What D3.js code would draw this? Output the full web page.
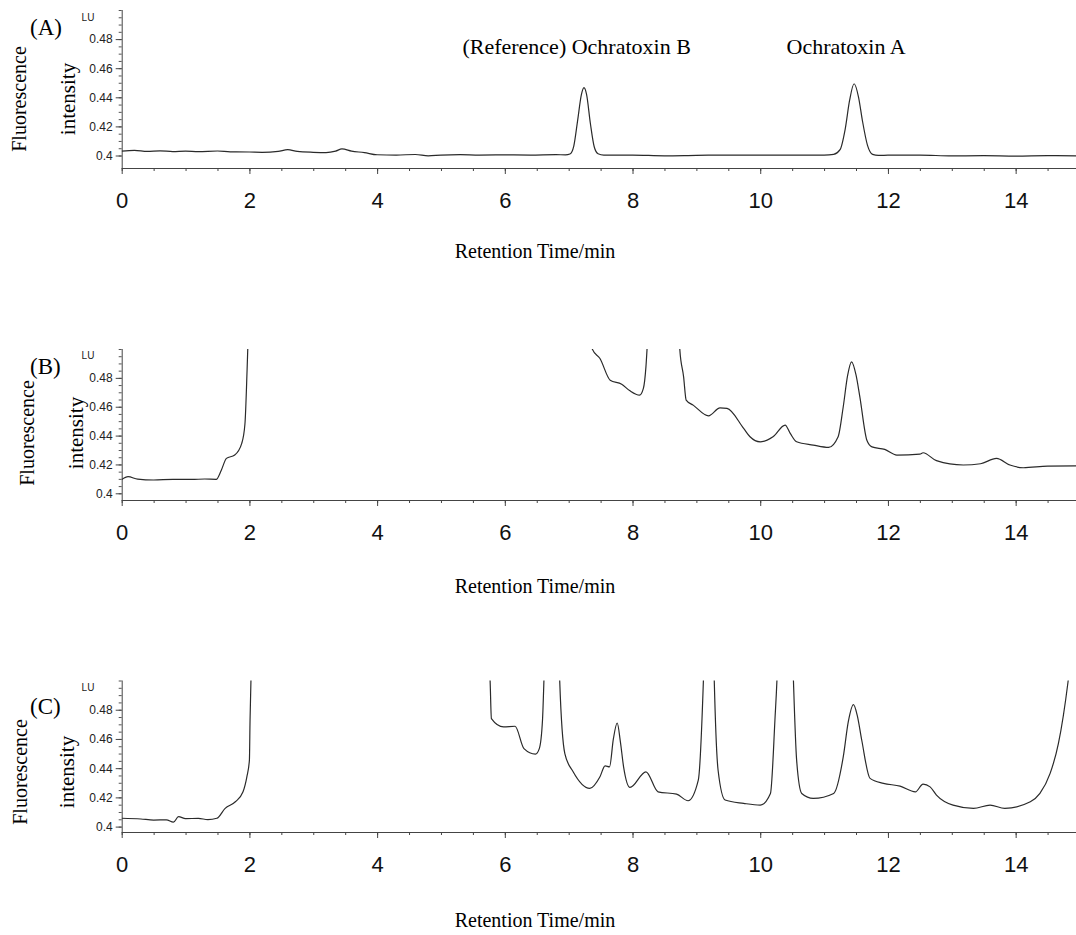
<!DOCTYPE html>
<html>
<head>
<meta charset="utf-8">
<script src="https://cdn.jsdelivr.net/npm/d3@7"></script>
<style>
  body { margin: 0; background: #fff; }
  svg { display: block; }
</style>
</head>
<body>
<script>
// chromatogram traces, [retention time (min), fluorescence (LU)]
const traceA = [
  [0, 0.4030], [0.2, 0.4035], [0.4, 0.4028], [0.6, 0.4032], [0.8, 0.4027], [1.0, 0.4030],
  [1.2, 0.4026], [1.5, 0.4031], [1.7, 0.4025], [2.0, 0.4024], [2.2, 0.4022], [2.45, 0.4028],
  [2.6, 0.4040], [2.75, 0.4028], [3.0, 0.4022], [3.2, 0.4020], [3.35, 0.4030], [3.45, 0.4045],
  [3.6, 0.4030], [3.8, 0.4020], [4.0, 0.4005], [4.3, 0.4003], [4.6, 0.4007], [4.8, 0.3998],
  [5.0, 0.4003], [5.3, 0.4006], [5.6, 0.4003], [6.0, 0.4004], [6.4, 0.4003], [6.8, 0.4006],
  [6.95, 0.4004], [7.02, 0.4010], [7.08, 0.4065], [7.14, 0.4240], [7.2, 0.4420], [7.24, 0.4466],
  [7.28, 0.4420], [7.34, 0.4220], [7.4, 0.4060], [7.46, 0.4012], [7.55, 0.4003], [8.0, 0.4003],
  [8.5, 0.3998], [9.0, 0.4001], [9.5, 0.4003], [10.0, 0.4003], [10.5, 0.4002], [11.0, 0.4003],
  [11.15, 0.4008], [11.25, 0.4040], [11.33, 0.4180], [11.4, 0.4380], [11.47, 0.4493], [11.54, 0.4400],
  [11.6, 0.4240], [11.68, 0.4070], [11.76, 0.4008], [11.85, 0.4001], [12.0, 0.4002], [12.5, 0.4003],
  [13.0, 0.3997], [13.5, 0.3999], [14.0, 0.3996], [14.5, 0.3999], [15.0, 0.3997]
];

const traceB = [
  [0, 0.4095], [0.1, 0.4115], [0.25, 0.4098], [0.5, 0.4092], [0.8, 0.4097], [1.1, 0.4096],
  [1.3, 0.4099], [1.48, 0.4097], [1.56, 0.4160], [1.64, 0.4242], [1.77, 0.4265], [1.88, 0.4346],
  [1.93, 0.4480], [1.96, 0.4807], [1.98, 0.5100], [2.0, 0.5600], [7.3, 0.5600], [7.37, 0.4999],
  [7.49, 0.4934], [7.65, 0.4784], [7.83, 0.4756], [7.96, 0.4710], [8.11, 0.4680], [8.17, 0.4727],
  [8.21, 0.4876], [8.24, 0.5100], [8.3, 0.5600], [8.7, 0.5600], [8.74, 0.5000], [8.8, 0.4807],
  [8.84, 0.4646], [8.95, 0.4611], [9.19, 0.4537], [9.37, 0.4592], [9.48, 0.4588], [9.74, 0.4450],
  [9.84, 0.4392], [10.0, 0.4357], [10.2, 0.4392], [10.39, 0.4473], [10.47, 0.4415], [10.57, 0.4357],
  [10.83, 0.4334], [11.07, 0.4318], [11.22, 0.4392], [11.3, 0.4600], [11.37, 0.4820], [11.43, 0.4911],
  [11.5, 0.4820], [11.56, 0.4668], [11.67, 0.4368], [11.75, 0.4322], [11.95, 0.4304], [12.14, 0.4265],
  [12.5, 0.4272], [12.55, 0.4281], [12.76, 0.4226], [13.18, 0.4196], [13.45, 0.4205], [13.7, 0.4242],
  [13.91, 0.4196], [14.12, 0.4177], [14.5, 0.4188], [15.0, 0.4190]
];

const traceC = [
  [0, 0.4057], [0.3, 0.4052], [0.5, 0.4045], [0.7, 0.4046], [0.81, 0.4030], [0.89, 0.4068],
  [1.0, 0.4055], [1.2, 0.4056], [1.35, 0.4048], [1.49, 0.4057], [1.62, 0.4125], [1.78, 0.4170],
  [1.9, 0.4238], [1.96, 0.4340], [2.0, 0.4455], [2.01, 0.4728], [2.03, 0.5100], [2.06, 0.5600],
  [5.7, 0.5600], [5.77, 0.4994], [5.79, 0.4739], [5.98, 0.4682], [6.16, 0.4687], [6.3, 0.4534],
  [6.48, 0.4496], [6.54, 0.4534], [6.59, 0.4728], [6.62, 0.5100], [6.66, 0.5600], [6.82, 0.5600],
  [6.86, 0.4994], [6.94, 0.4500], [7.07, 0.4375], [7.33, 0.4261], [7.49, 0.4341], [7.57, 0.4416],
  [7.64, 0.4409], [7.7, 0.4600], [7.76, 0.4709], [7.81, 0.4580], [7.86, 0.4409], [7.96, 0.4268],
  [8.21, 0.4375], [8.4, 0.4238], [8.69, 0.4222], [8.87, 0.4177], [9.03, 0.4318], [9.11, 0.5000],
  [9.15, 0.5600], [9.25, 0.5600], [9.28, 0.5000], [9.34, 0.4386], [9.45, 0.4182], [9.74, 0.4159],
  [10.0, 0.4147], [10.16, 0.4227], [10.23, 0.4728], [10.27, 0.5100], [10.3, 0.5600], [10.48, 0.5600],
  [10.52, 0.5000], [10.57, 0.4455], [10.65, 0.4227], [10.83, 0.4193], [11.15, 0.4227], [11.3, 0.4477],
  [11.38, 0.4720], [11.46, 0.4835], [11.52, 0.4760], [11.59, 0.4591], [11.72, 0.4330], [11.93, 0.4296],
  [12.19, 0.4277], [12.43, 0.4238], [12.55, 0.4291], [12.66, 0.4272], [12.76, 0.4216], [13.02, 0.4147],
  [13.34, 0.4125], [13.6, 0.4147], [13.83, 0.4125], [14.23, 0.4170], [14.38, 0.4227], [14.54, 0.4364],
  [14.67, 0.4569], [14.82, 0.4990], [14.9, 0.5300]
];

const panelNames = ['(A)', '(B)', '(C)'];
const xMajorTicks = [0, 2, 4, 6, 8, 10, 12, 14];
const xMinorTicks = d3.range(0, 15.01, 0.5);
const yMajorTicks = [0.4, 0.42, 0.44, 0.46, 0.48];
const yMinorTicks = d3.range(0.4, 0.5001, 0.005);
const peakNotes = [{ t: 7.25, text: '(Reference) Ochratoxin B' }, { t: 11.47, text: 'Ochratoxin A' }];

const W = 1076, H = 935;
const serif = '"Liberation Serif", "Times New Roman", serif';
const sans = '"Liberation Sans", Arial, sans-serif';

// pixel layout of each panel
const panels = [
  { trace: traceA, top: 10, zero: 155.5, axisY: 168, labelY: 200, titleY: 258, fluoX: 19, intX: 68, midY: 99, nameY: 35, luY: 21 },
  { trace: traceB, top: 349, zero: 493.3, axisY: 500, labelY: 532, titleY: 593, fluoX: 27, intX: 76, midY: 433, nameY: 374, luY: 359 },
  { trace: traceC, top: 680.5, zero: 826.6, axisY: 832, labelY: 864, titleY: 927, fluoX: 20, intX: 67, midY: 772, nameY: 714, luY: 691 }
];

const svg = d3.select('body').append('svg')
  .attr('width', W)
  .attr('height', H);

const x = d3.scaleLinear().domain([0, 15]).range([121.7, 1079.5]);

panels.forEach((p, i) => {
  const y = d3.scaleLinear().domain([0.4, 0.5]).range([p.zero, p.top]);
  const g = svg.append('g');

  // clip to the plot area
  const clipId = 'clip' + i;
  svg.append('clipPath').attr('id', clipId)
    .append('rect')
    .attr('x', x(0)).attr('y', p.top)
    .attr('width', W - x(0)).attr('height', p.axisY - p.top);

  // x axis
  const xAxisMinor = d3.axisBottom(x).tickValues(xMinorTicks).tickSize(3).tickFormat('');
  g.append('g').attr('transform', `translate(0,${p.axisY})`).call(xAxisMinor)
    .call(s => s.select('.domain').attr('stroke', '#444').attr('d', `M${x(0)},0.5H${W}`))
    .call(s => s.selectAll('.tick line').attr('stroke', '#444'));
  const xAxisMajor = d3.axisBottom(x).tickValues(xMajorTicks).tickSize(6).tickPadding(7);
  g.append('g').attr('transform', `translate(0,${p.axisY})`).call(xAxisMajor)
    .call(s => s.select('.domain').remove())
    .call(s => s.selectAll('.tick line').attr('stroke', '#444'))
    .call(s => s.selectAll('.tick text')
      .attr('font-family', sans).attr('font-size', 22).attr('fill', '#111')
      .attr('y', p.labelY - p.axisY).attr('dy', '0.35em'));

  // y axis
  const yAxisMinor = d3.axisLeft(y).tickValues(yMinorTicks).tickSize(3).tickFormat('');
  g.append('g').attr('transform', `translate(${x(0)},0)`).call(yAxisMinor)
    .call(s => s.select('.domain').attr('stroke', '#444').attr('d', `M0.5,${p.top}V${p.axisY}`))
    .call(s => s.selectAll('.tick line').attr('stroke', '#555'));
  const yAxisMajor = d3.axisLeft(y).tickValues(yMajorTicks).tickSize(6).tickPadding(3)
    .tickFormat(d => d === 0.4 ? '0.4' : d3.format('.2f')(d));
  g.append('g').attr('transform', `translate(${x(0)},0)`).call(yAxisMajor)
    .call(s => s.select('.domain').remove())
    .call(s => s.selectAll('.tick line').attr('stroke', '#444'))
    .call(s => s.selectAll('.tick text')
      .attr('font-family', sans).attr('font-size', 12).attr('fill', '#222'));

  g.append('text').attr('x', 88).attr('y', p.luY)
    .attr('text-anchor', 'middle').attr('font-family', sans).attr('font-size', 10)
    .attr('fill', '#222').text('LU');

  // trace
  const line = d3.line()
    .x(d => x(d[0]))
    .y(d => y(d[1]))
    .curve(d3.curveMonotoneX);
  g.append('path')
    .datum(p.trace)
    .attr('clip-path', `url(#${clipId})`)
    .attr('fill', 'none')
    .attr('stroke', '#2a2a2a')
    .attr('stroke-width', 1.2)
    .attr('d', line);

  // labels
  g.append('text')
    .attr('transform', `translate(${p.fluoX + 7},${p.midY}) rotate(-90)`)
    .attr('text-anchor', 'middle').attr('font-family', serif).attr('font-size', 20)
    .text('Fluorescence');
  g.append('text')
    .attr('transform', `translate(${p.intX + 7},${p.midY}) rotate(-90)`)
    .attr('text-anchor', 'middle').attr('font-family', serif).attr('font-size', 21)
    .text('intensity');
  g.append('text').attr('x', 30).attr('y', p.nameY)
    .attr('font-family', serif).attr('font-size', 23)
    .text(panelNames[i]);
  g.append('text').attr('x', 535).attr('y', p.titleY)
    .attr('text-anchor', 'middle').attr('font-family', serif).attr('font-size', 20)
    .text('Retention Time/min');

  if (i === 0) {
    g.selectAll('.note').data(peakNotes).enter()
      .append('text')
      .attr('x', d => x(d.t) - 8)
      .attr('y', 54)
      .attr('text-anchor', 'middle')
      .attr('font-family', serif).attr('font-size', 22)
      .text(d => d.text);
  }
});
</script>
</body>
</html>
